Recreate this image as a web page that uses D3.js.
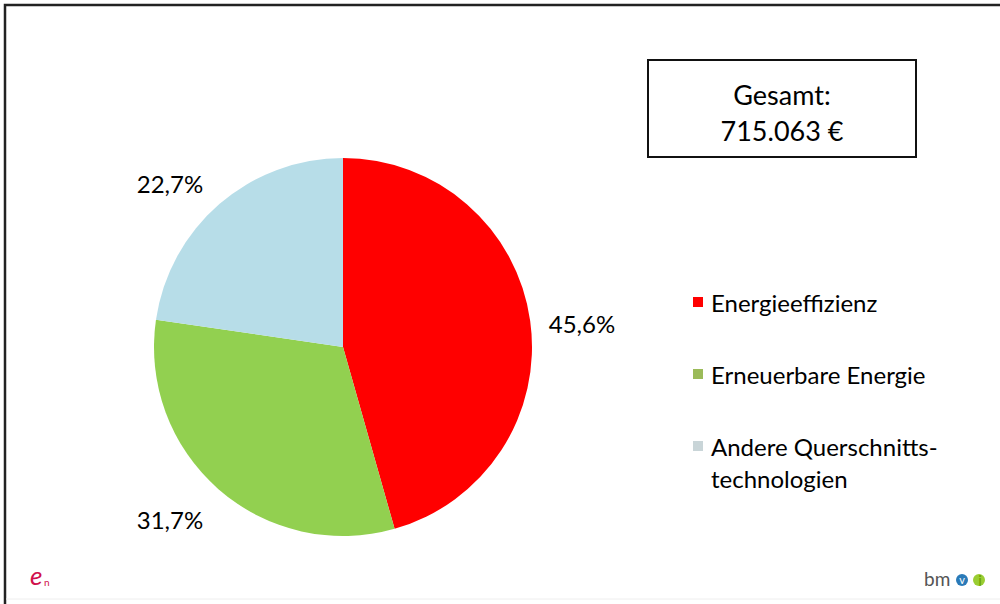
<!DOCTYPE html>
<html><head><meta charset="utf-8">
<script src="https://cdn.jsdelivr.net/npm/d3@7"></script>
<style>body{margin:0;background:#fff}svg{display:block}text{font-family:Lato,"Open Sans",sans-serif}</style>
</head><body><svg id="c" width="1000" height="604"></svg>
<script>
const categories = ["Energieeffizienz", "Erneuerbare Energie", "Andere Querschnitts-technologien"];
const legendLines = [["Energieeffizienz"], ["Erneuerbare Energie"], ["Andere Querschnitts-", "technologien"]];
const values = [45.6, 31.7, 22.7];
const valueLabels = ["45,6%", "31,7%", "22,7%"];
const colors = ["#FF0000", "#92D050", "#B7DDE8"];
const legendColors = ["#FF0000", "#9BBB59", "#C9D5D8"];
const totalLines = ["Gesamt:", "715.063 €"];

const svg = d3.select("#c");
svg.append("rect").attr("x",0).attr("y",0).attr("width",1000).attr("height",604).attr("fill","#fff");
// frame
svg.append("path").attr("d","M5,604 L5,5 L1000,5").attr("fill","none").attr("stroke","#222").attr("stroke-width",2.5);
svg.append("line").attr("x1",6).attr("x2",1000).attr("y1",599).attr("y2",599).attr("stroke","#eee").attr("stroke-width",1);

const cx = 343, cy = 347, r = 189;
const pie = d3.pie().sort(null).value(d => d);
const arcs = pie(values);
const arc = d3.arc().innerRadius(0).outerRadius(r);
const g = svg.append("g").attr("transform",`translate(${cx},${cy})`);
g.selectAll("path").data(arcs).join("path").attr("d",arc).attr("fill",(d,i)=>colors[i]);

// labels
const labelPos = [[582,323],[170,519],[170,183]];
svg.selectAll("text.pl").data(valueLabels).join("text").attr("class","pl")
  .attr("x",(d,i)=>labelPos[i][0]).attr("y",(d,i)=>labelPos[i][1])
  .attr("text-anchor","middle").attr("dominant-baseline","central")
  .attr("font-size",24).attr("fill","#000").text(d=>d);

// total box
svg.append("rect").attr("x",648).attr("y",60).attr("width",268).attr("height",97)
  .attr("fill","#fff").attr("stroke","#111").attr("stroke-width",2);
svg.selectAll("text.tot").data(totalLines).join("text").attr("class","tot")
  .attr("x",782).attr("y",(d,i)=>94+i*36).attr("text-anchor","middle").attr("dominant-baseline","central")
  .attr("font-size",27).attr("fill","#000").text(d=>d);

// legend
const ly = [302, 374, 446];
const lg = svg.append("g");
categories.forEach((c,i)=>{
  lg.append("rect").attr("x",693).attr("y",ly[i]-5).attr("width",10).attr("height",10).attr("fill",legendColors[i]);
  legendLines[i].forEach((t,j)=>{
    lg.append("text").attr("x",711).attr("y",ly[i]+j*32).attr("dominant-baseline","central")
      .attr("font-size",24).attr("fill","#000").text(t);
  });
});

// logos
svg.append("text").attr("x",30).attr("y",585).attr("font-size",26).attr("font-style","italic")
  .attr("font-family","DejaVu Serif").attr("fill","#d0104c").text("e");
svg.append("text").attr("x",44).attr("y",586).attr("font-size",10).attr("fill","#d0104c").text("n");
svg.append("text").attr("x",924).attr("y",586).attr("font-size",19).attr("fill","#555").text("bm");
svg.append("circle").attr("cx",962).attr("cy",580).attr("r",6).attr("fill","#2a7ab8");
svg.append("text").attr("x",962).attr("y",584).attr("font-size",11).attr("text-anchor","middle").attr("fill","#fff").text("v");
svg.append("circle").attr("cx",979).attr("cy",580).attr("r",6).attr("fill","#9acd32");
svg.append("text").attr("x",980).attr("y",586).attr("font-size",15).attr("text-anchor","middle").attr("fill","#6aa000").text("i");
</script></body></html>
